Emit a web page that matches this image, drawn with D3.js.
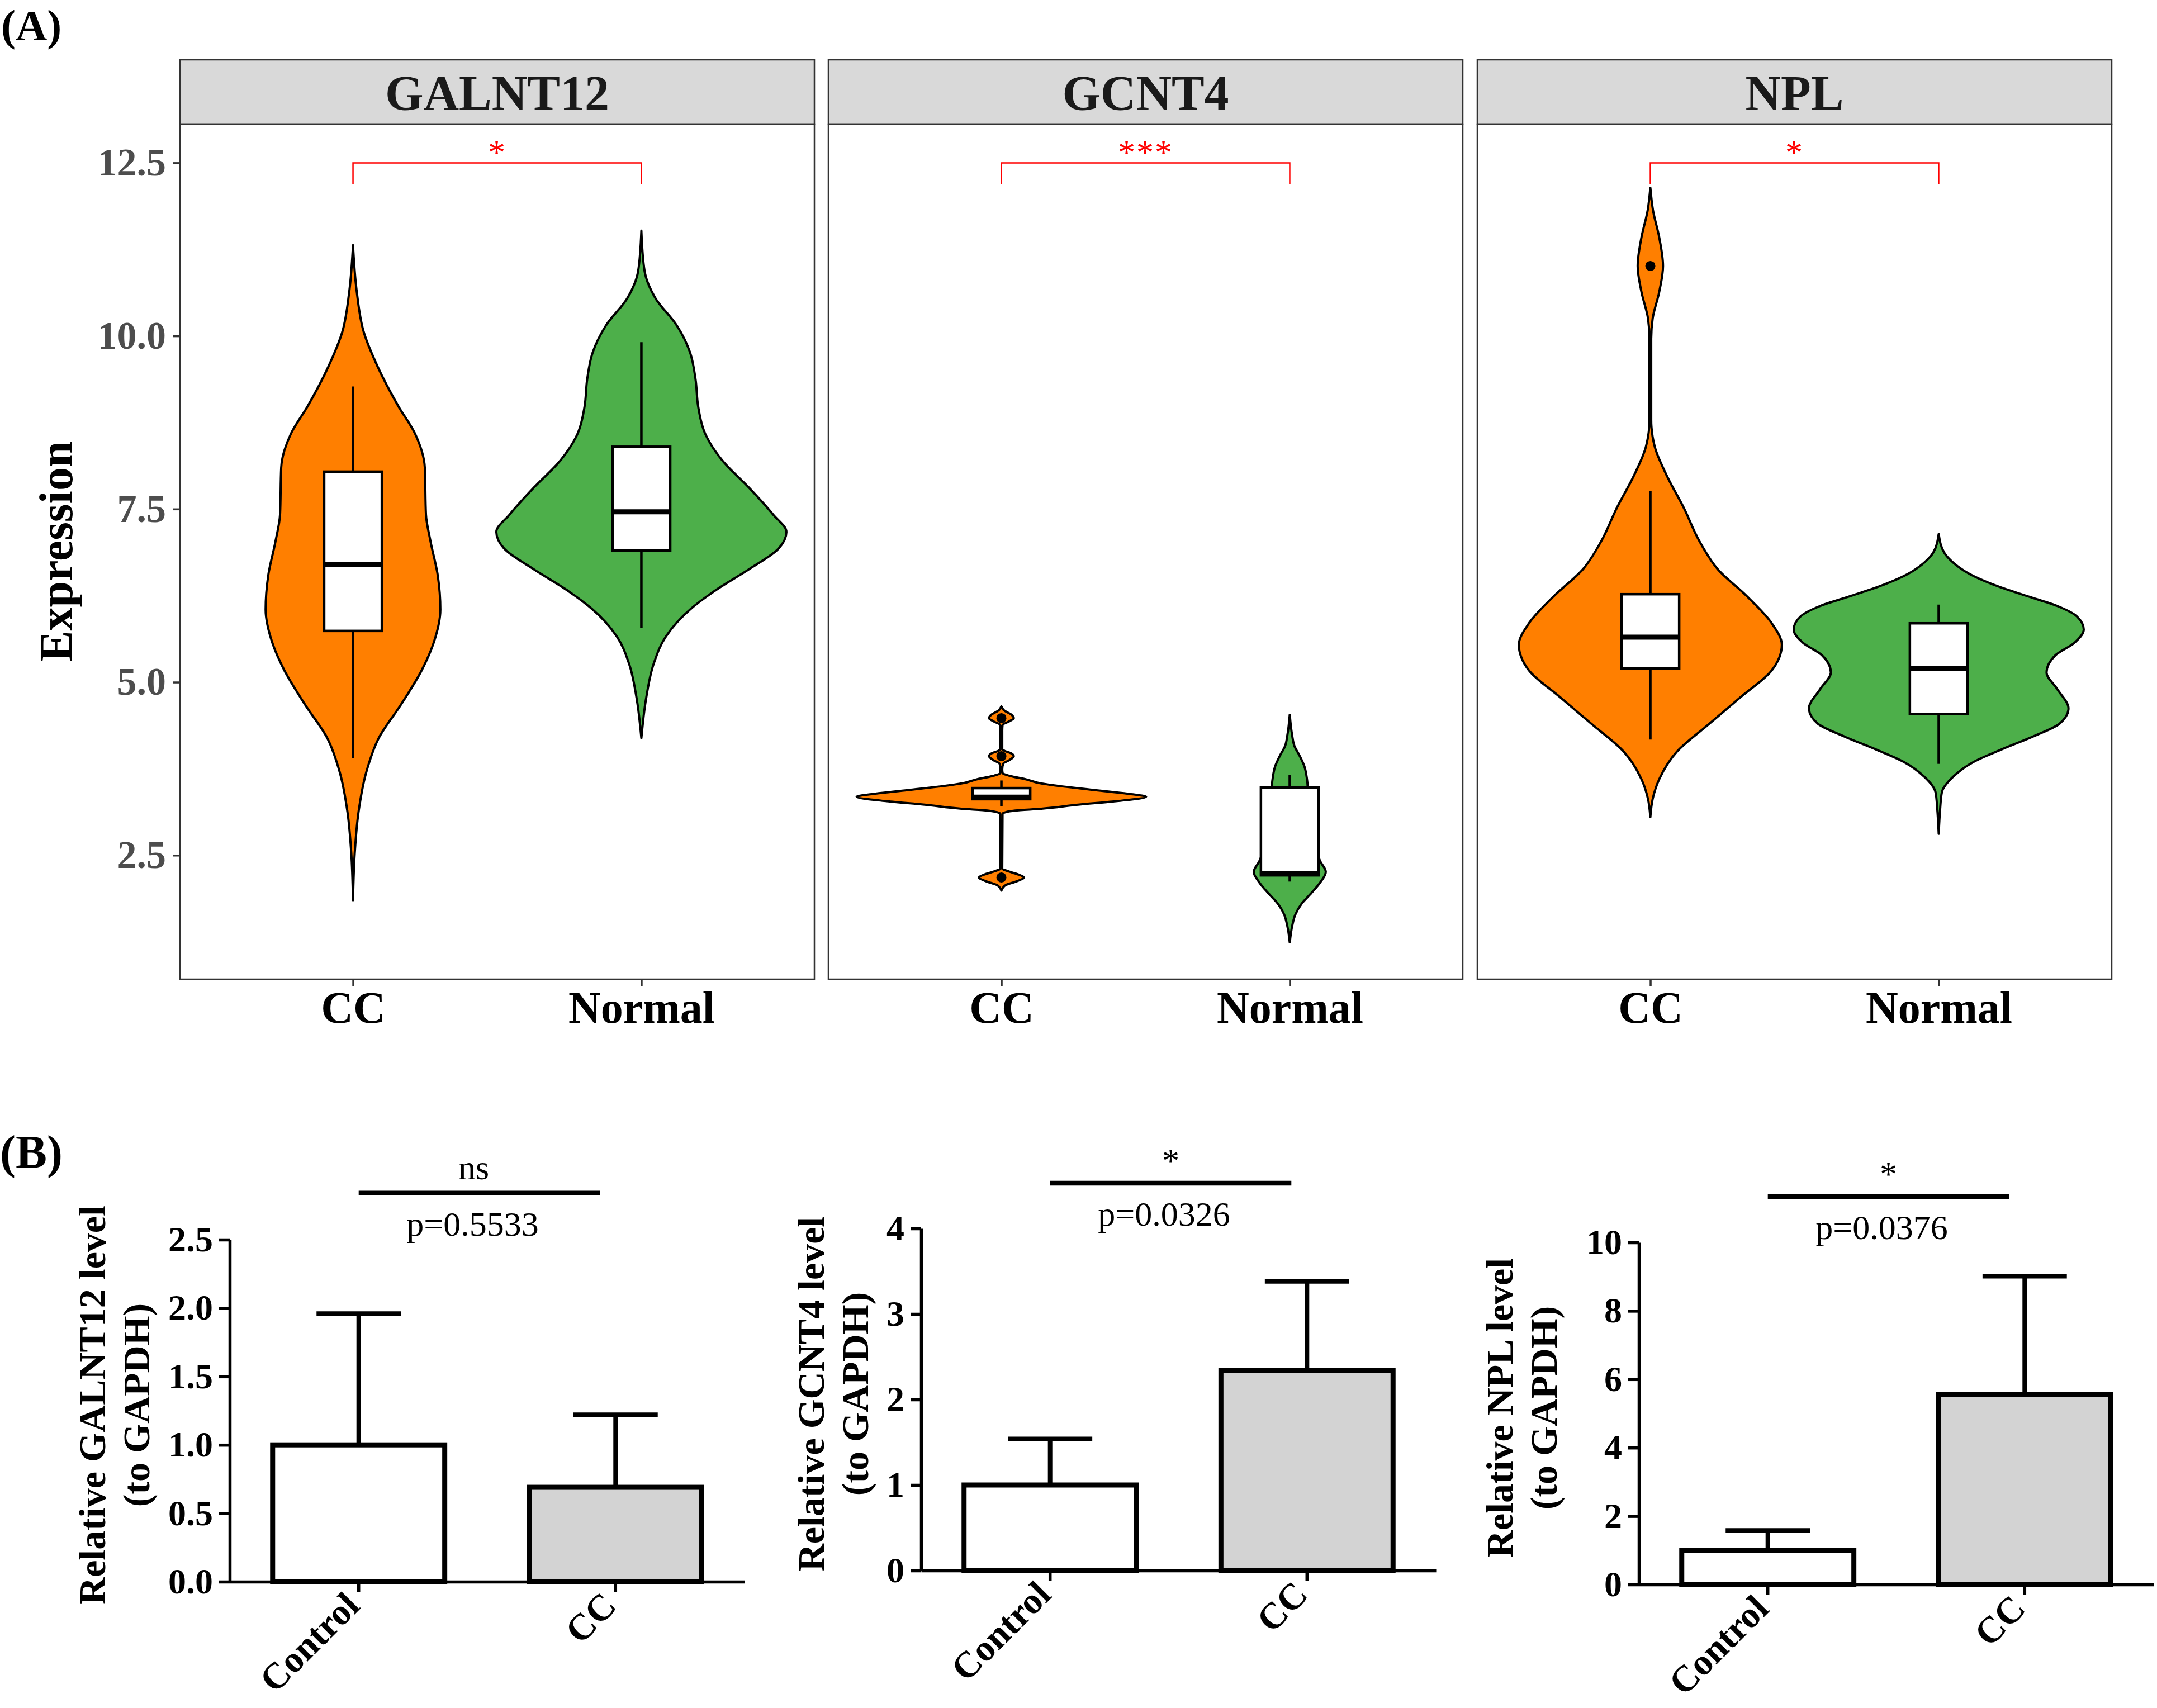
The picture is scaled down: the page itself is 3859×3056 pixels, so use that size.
<!DOCTYPE html>
<html>
<head>
<meta charset="utf-8">
<script src="https://cdn.jsdelivr.net/npm/d3@7"></script>
<style>
  body { margin: 0; background: #fff; }
  svg text { font-family: "Liberation Serif", "Times New Roman", serif; }
</style>
</head>
<body>
<svg id="fig" width="3859" height="3056"></svg>
<script>
// ---------- panel A data (violin + boxplot) ----------
const genes = ['GALNT12', 'GCNT4', 'NPL']
const groups = ['CC', 'Normal']
const groupColors = ['#FF7F00', '#4DAF4A']
const yTicksA = [2.5, 5.0, 7.5, 10.0, 12.5]
const signifA = ['*', '***', '*']

// violin outlines: [expression, half width as a fraction of the group spacing]
const galnt12CC = [[11.31, 0], [10.64, 0.013], [10.06, 0.037], [9.57, 0.084], [8.98, 0.158], [8.59, 0.215],
  [8.10, 0.249], [7.42, 0.253], [7.03, 0.269], [6.54, 0.294], [6.05, 0.303], [5.56, 0.279], [5.17, 0.238],
  [4.68, 0.167], [4.19, 0.089], [3.70, 0.046], [3.12, 0.019], [2.53, 0.006], [1.85, 0]]
const galnt12Normal = [[11.52, 0], [10.94, 0.011], [10.55, 0.048], [10.15, 0.123], [9.76, 0.169], [9.37, 0.188],
  [8.98, 0.197], [8.59, 0.221], [8.20, 0.281], [7.81, 0.373], [7.42, 0.457], [7.17, 0.503], [6.93, 0.476],
  [6.63, 0.373], [6.34, 0.262], [6.05, 0.169], [5.66, 0.085], [5.27, 0.043], [4.78, 0.017], [4.19, 0]]
const gcnt4CC = [[4.65, 0], [4.59, 0.01], [4.53, 0.035], [4.48, 0.043], [4.44, 0.03], [4.38, 0.004], [4.30, 0.003],
  [4.03, 0.003], [4.01, 0.01], [3.97, 0.035], [3.93, 0.043], [3.88, 0.03], [3.82, 0.006], [3.74, 0.003],
  [3.69, 0.004], [3.64, 0.035], [3.60, 0.082], [3.54, 0.134], [3.44, 0.326], [3.39, 0.436], [3.345, 0.502],
  [3.28, 0.397], [3.23, 0.266], [3.17, 0.134], [3.145, 0.048], [3.10, 0.004], [2.31, 0.003], [2.26, 0.03],
  [2.22, 0.06], [2.18, 0.078], [2.12, 0.05], [2.07, 0.015], [2.03, 0.005], [1.99, 0]]
const gcnt4Normal = [[4.53, 0], [4.24, 0.008], [4.08, 0.016], [3.93, 0.035], [3.78, 0.051], [3.62, 0.059],
  [3.49, 0.062], [3.2, 0.06], [2.9, 0.07], [2.65, 0.085], [2.41, 0.106], [2.26, 0.125], [2.11, 0.106],
  [1.95, 0.074], [1.80, 0.041], [1.64, 0.019], [1.49, 0.009], [1.24, 0]]
const nplCC = [[12.14, 0], [11.82, 0.009], [11.42, 0.031], [11.01, 0.044], [10.64, 0.031], [10.25, 0.008],
  [9.96, 0.003], [8.79, 0.003], [8.39, 0.016], [8.00, 0.055], [7.51, 0.117], [7.03, 0.171], [6.63, 0.234],
  [6.24, 0.335], [5.85, 0.421], [5.54, 0.456], [5.17, 0.421], [4.78, 0.312], [4.39, 0.202], [4.00, 0.093],
  [3.60, 0.031], [3.31, 0.008], [3.05, 0]]
const nplNormal = [[7.14, 0], [6.87, 0.019], [6.72, 0.052], [6.56, 0.108], [6.41, 0.189], [6.25, 0.301],
  [6.10, 0.411], [5.95, 0.479], [5.76, 0.503], [5.57, 0.471], [5.39, 0.405], [5.14, 0.374], [4.90, 0.411],
  [4.62, 0.450], [4.40, 0.419], [4.22, 0.330], [4.03, 0.219], [3.85, 0.122], [3.63, 0.049], [3.41, 0.011],
  [3.17, 0.005], [2.81, 0]]

// gene, group, lower whisker, q1, median, q3, upper whisker
const boxStats = [
  ['GALNT12', 'CC', 3.90, 5.74, 6.70, 8.04, 9.27],
  ['GALNT12', 'Normal', 5.78, 6.90, 7.46, 8.40, 9.91],
  ['GCNT4', 'CC', 3.21, 3.31, 3.34, 3.47, 3.58],
  ['GCNT4', 'Normal', 2.12, 2.21, 2.24, 3.48, 3.66],
  ['NPL', 'CC', 4.17, 5.20, 5.65, 6.27, 7.76],
  ['NPL', 'Normal', 3.82, 4.54, 5.20, 5.85, 6.12]
]
const outliers = [['GCNT4', 'CC', 4.48], ['GCNT4', 'CC', 3.93], ['GCNT4', 'CC', 2.18], ['NPL', 'CC', 11.01]]

// ---------- panel B data (bar charts) ----------
const barGroups = ['Control', 'CC']
const barFills = ['#FFFFFF', '#D3D3D3']
const barMeans = [[1.00, 0.69], [1.00, 2.34], [1.00, 5.55]]
const barUpper = [[1.96, 1.22], [1.54, 3.38], [1.58, 9.01]]
const barYMax = [2.5, 4, 10]
const barTicks = [[0, 0.5, 1.0, 1.5, 2.0, 2.5], [0, 1, 2, 3, 4], [0, 2, 4, 6, 8, 10]]
const barTickFormats = ['.1f', 'd', 'd']
const barYLabels = [['Relative GALNT12 level', '(to GAPDH)'], ['Relative GCNT4 level', '(to GAPDH)'], ['Relative NPL level', '(to GAPDH)']]
const barSignif = ['ns', '*', '*']
const barPvalues = ['p=0.5533', 'p=0.0326', 'p=0.0376']
const barSignifY = [2.84, 4.53, 11.34]

const svg = d3.select('#fig')

// ================= panel A =================
const panelLeftA = [322, 1482, 2643]
const panelWA = 1135
const stripTop = 107
const stripBottom = 222
const panelBottomA = 1752
const yA = d3.scaleLinear().domain([0.71, 13.06]).range([panelBottomA, stripBottom])
const violins = [[galnt12CC, galnt12Normal], [gcnt4CC, gcnt4Normal], [nplCC, nplNormal]]

svg.append('text').attr('x', 2).attr('y', 72)
  .attr('font-size', 78).attr('font-weight', 'bold').text('(A)')

genes.forEach(function (gene, i) {
  const left = panelLeftA[i]
  const x = d3.scalePoint().domain(groups).range([left, left + panelWA]).padding(0.6)
  const halfW = d3.scaleLinear().domain([0, 1]).range([0, x.step()])
  const g = svg.append('g')

  // strip
  g.append('rect')
    .attr('x', left).attr('y', stripTop)
    .attr('width', panelWA).attr('height', stripBottom - stripTop)
    .attr('fill', '#D9D9D9').attr('stroke', '#333333').attr('stroke-width', 2.5)
  g.append('text')
    .attr('x', left + panelWA / 2).attr('y', 196)
    .attr('text-anchor', 'middle').attr('font-size', 88).attr('font-weight', 'bold')
    .attr('fill', '#1A1A1A').text(gene)

  // violins
  groups.forEach(function (grp, j) {
    const cx = x(grp)
    const area = d3.area()
      .curve(d3.curveMonotoneY)
      .y(function (d) { return yA(d[0]) })
      .x0(function (d) { return cx - halfW(d[1]) })
      .x1(function (d) { return cx + halfW(d[1]) })
    g.append('path')
      .datum(violins[i][j])
      .attr('d', area)
      .attr('fill', groupColors[j])
      .attr('stroke', '#000').attr('stroke-width', 4).attr('stroke-linejoin', 'round')
  })

  // outliers
  outliers.filter(function (o) { return o[0] === gene }).forEach(function (o) {
    g.append('circle').attr('cx', x(o[1])).attr('cy', yA(o[2])).attr('r', 9).attr('fill', '#000')
  })

  // boxplots
  boxStats.filter(function (b) { return b[0] === gene }).forEach(function (b) {
    const cx = x(b[1])
    const bw = halfW(0.1)
    g.append('line').attr('x1', cx).attr('x2', cx).attr('y1', yA(b[6])).attr('y2', yA(b[5]))
      .attr('stroke', '#000').attr('stroke-width', 4.5)
    g.append('line').attr('x1', cx).attr('x2', cx).attr('y1', yA(b[3])).attr('y2', yA(b[2]))
      .attr('stroke', '#000').attr('stroke-width', 4.5)
    g.append('rect')
      .attr('x', cx - bw).attr('width', 2 * bw)
      .attr('y', yA(b[5])).attr('height', yA(b[3]) - yA(b[5]))
      .attr('fill', '#fff').attr('stroke', '#000').attr('stroke-width', 4.5)
    g.append('line').attr('x1', cx - bw).attr('x2', cx + bw).attr('y1', yA(b[4])).attr('y2', yA(b[4]))
      .attr('stroke', '#000').attr('stroke-width', 9)
  })

  // significance bracket
  const x1 = x(groups[0])
  const x2 = x(groups[1])
  g.append('path')
    .attr('d', 'M' + x1 + ',' + yA(12.19) + 'V' + yA(12.5) + 'H' + x2 + 'V' + yA(12.19))
    .attr('fill', 'none').attr('stroke', '#FF0000').attr('stroke-width', 2.5)
  g.append('text')
    .attr('x', (x1 + x2) / 2).attr('y', yA(12.5) + 2)
    .attr('text-anchor', 'middle').attr('font-size', 62).attr('fill', '#FF0000')
    .attr('letter-spacing', 2)
    .text(signifA[i])

  // panel border
  g.append('rect')
    .attr('x', left).attr('y', stripBottom)
    .attr('width', panelWA).attr('height', panelBottomA - stripBottom)
    .attr('fill', 'none').attr('stroke', '#333333').attr('stroke-width', 2.5)

  // x axis
  const xAxis = g.append('g')
    .attr('transform', 'translate(0,' + panelBottomA + ')')
    .call(d3.axisBottom(x).tickSize(13).tickPadding(8))
  xAxis.select('.domain').remove()
  xAxis.selectAll('line').attr('stroke', '#333333').attr('stroke-width', 3.5)
  xAxis.selectAll('text').attr('font-size', 80).attr('font-weight', 'bold').attr('fill', '#000')
    .attr('font-family', '"Liberation Serif", serif')

  // y axis on first panel only
  if (i === 0) {
    const yAxis = g.append('g')
      .attr('transform', 'translate(' + left + ',0)')
      .call(d3.axisLeft(yA).tickValues(yTicksA).tickFormat(d3.format('.1f')).tickSize(13).tickPadding(12))
    yAxis.select('.domain').remove()
    yAxis.selectAll('line').attr('stroke', '#333333').attr('stroke-width', 3.5)
    yAxis.selectAll('text').attr('font-size', 70).attr('font-weight', 'bold').attr('fill', '#4D4D4D')
      .attr('font-family', '"Liberation Serif", serif')
  }
})

svg.append('text')
  .attr('transform', 'translate(129,' + ((stripBottom + panelBottomA) / 2) + ') rotate(-90)')
  .attr('text-anchor', 'middle').attr('font-size', 84).attr('font-weight', 'bold')
  .text('Expression')

// ================= panel B =================
const chartLeftB = [411, 1648, 2932]
const chartBottomB = [2830, 2810, 2835]
const plotHB = 612
const plotWB = 921
const yLabelOffsetB = [223, 174, 226]

svg.append('text').attr('x', 0).attr('y', 2090)
  .attr('font-size', 84).attr('font-weight', 'bold').text('(B)')

barMeans.forEach(function (means, k) {
  const left = chartLeftB[k]
  const bottom = chartBottomB[k]
  const y = d3.scaleLinear().domain([0, barYMax[k]]).range([bottom, bottom - plotHB])
  const x = d3.scaleBand().domain(barGroups).range([left, left + plotWB]).paddingInner(0.33).paddingOuter(0.167)
  const g = svg.append('g')

  // bars
  g.selectAll('rect.bar')
    .data(barGroups)
    .enter()
    .append('rect')
    .attr('class', 'bar')
    .attr('x', function (d) { return x(d) })
    .attr('width', x.bandwidth())
    .attr('y', function (d, j) { return y(means[j]) })
    .attr('height', function (d, j) { return bottom - y(means[j]) })
    .attr('fill', function (d, j) { return barFills[j] })
    .attr('stroke', '#000').attr('stroke-width', 9)

  // error bars (upper only)
  barGroups.forEach(function (grp, j) {
    const cx = x(grp) + x.bandwidth() / 2
    const cap = x.bandwidth() * 0.245
    g.append('line').attr('x1', cx).attr('x2', cx).attr('y1', y(means[j])).attr('y2', y(barUpper[k][j]))
      .attr('stroke', '#000').attr('stroke-width', 8)
    g.append('line').attr('x1', cx - cap).attr('x2', cx + cap).attr('y1', y(barUpper[k][j])).attr('y2', y(barUpper[k][j]))
      .attr('stroke', '#000').attr('stroke-width', 8)
  })

  // axes
  const yAxis = g.append('g')
    .attr('transform', 'translate(' + left + ',0)')
    .call(d3.axisLeft(y).tickValues(barTicks[k]).tickFormat(d3.format(barTickFormats[k])).tickSize(19).tickSizeOuter(0).tickPadding(11))
  yAxis.select('.domain').attr('stroke', '#000').attr('stroke-width', 5.5)
  yAxis.selectAll('line').attr('stroke', '#000').attr('stroke-width', 5.5)
  yAxis.selectAll('text').attr('font-size', 64).attr('font-weight', 'bold').attr('fill', '#000')
    .attr('font-family', '"Liberation Serif", serif')

  const xAxis = g.append('g')
    .attr('transform', 'translate(0,' + bottom + ')')
    .call(d3.axisBottom(x).tickSize(19).tickSizeOuter(0).tickPadding(14))
  xAxis.select('.domain').attr('stroke', '#000').attr('stroke-width', 5.5)
  xAxis.selectAll('line').attr('stroke', '#000').attr('stroke-width', 5.5)
  xAxis.selectAll('text')
    .attr('font-size', 66).attr('font-weight', 'bold').attr('fill', '#000')
    .attr('font-family', '"Liberation Serif", serif')
    .attr('text-anchor', 'end')
    .attr('dx', '-0.45em').attr('dy', '0.05em')
    .attr('transform', 'rotate(-45)')

  // y label (two lines)
  const midY = bottom - plotHB / 2 - 10
  barYLabels[k].forEach(function (line, li) {
    g.append('text')
      .attr('transform', 'translate(' + (left - yLabelOffsetB[k] + li * 79) + ',' + midY + ') rotate(-90)')
      .attr('text-anchor', 'middle').attr('font-size', 68).attr('font-weight', 'bold')
      .text(line)
  })

  // significance line and texts
  const sx1 = x(barGroups[0]) + x.bandwidth() / 2
  const sx2 = x(barGroups[1]) + x.bandwidth() / 2 - 28
  const sy = y(barSignifY[k])
  g.append('line').attr('x1', sx1).attr('x2', sx2).attr('y1', sy).attr('y2', sy)
    .attr('stroke', '#000').attr('stroke-width', 8.5)
  g.append('text')
    .attr('x', (sx1 + sx2) / 2 - (barSignif[k] === 'ns' ? 10 : 0)).attr('y', sy - (barSignif[k] === 'ns' ? 25 : 20))
    .attr('text-anchor', 'middle').attr('font-size', 62)
    .text(barSignif[k])
  g.append('text')
    .attr('x', (sx1 + sx2) / 2 - 12).attr('y', sy + 76)
    .attr('text-anchor', 'middle').attr('font-size', 62)
    .text(barPvalues[k])
})
</script>
</body>
</html>
